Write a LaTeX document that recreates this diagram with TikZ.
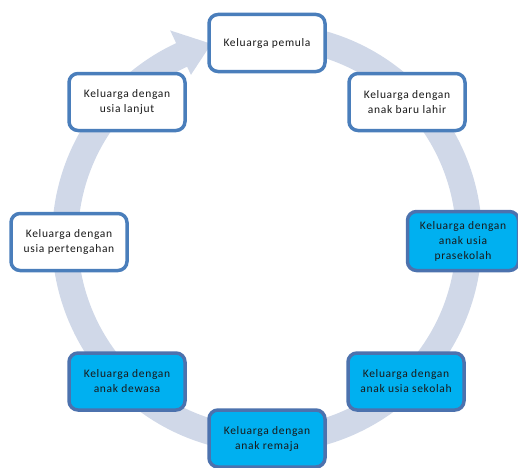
\documentclass[tikz,border=0pt]{standalone}
\usepackage{fontspec}
\setmainfont{Carlito}[LetterSpace=6]
\usepackage{tikz}
\usetikzlibrary{shapes, positioning}
\definecolor{ringcol}{HTML}{D0D8E8}
\definecolor{boxline}{HTML}{4A7EBB}
\definecolor{boxlinedark}{HTML}{4C72AE}
\definecolor{stagefill}{HTML}{00B0F0}
\tikzstyle{stage} = [rectangle, rounded corners=9pt, draw=boxline, line width=3.5pt, fill=white, align=center,
                     minimum width=116pt, minimum height=57pt, text=black!90, font=\fontsize{11.5}{15}\selectfont]
\tikzstyle{stagecyan} = [stage, fill=stagefill, draw=boxlinedark]

\begin{document}
\begin{tikzpicture}[x=1pt, y=1pt]
				\useasboundingbox (0, 0) rectangle (518, 467);
				\coordinate (Mid) at (267, 229);

				% circular arrow behind the boxes
				\begin{scope}[shift={(Mid)}]
					\fill[ringcol] (80:215) arc[start angle=80, end angle=-245, radius=215]
						-- (-245:229) -- (-254:202) -- (-245:180) -- (-245:189)
						arc[start angle=-245, end angle=80, radius=189] -- cycle;
				\end{scope}

				% stages
				\node (Pemula) [stage] at (267, 424) {Keluarga pemula};
				\node (BaruLahir) [stage] at (407, 365) {Keluarga dengan\\anak baru lahir};
				\node (Prasekolah) [stagecyan, minimum width=111pt, minimum height=59pt] at (463, 226)
					{Keluarga dengan\\anak usia\\prasekolah};
				\node (Sekolah) [stagecyan] at (406, 85.5) {Keluarga dengan\\anak usia sekolah};
				\node (Remaja) [stagecyan] at (267, 28.5) {Keluarga dengan\\anak remaja};
				\node (Dewasa) [stagecyan] at (127, 85.5) {Keluarga dengan\\anak dewasa};
				\node (Pertengahan) [stage] at (69, 225) {Keluarga dengan\\usia pertengahan};
				\node (Lanjut) [stage] at (127, 365) {Keluarga dengan\\usia lanjut};
			\end{tikzpicture}
\end{document}
